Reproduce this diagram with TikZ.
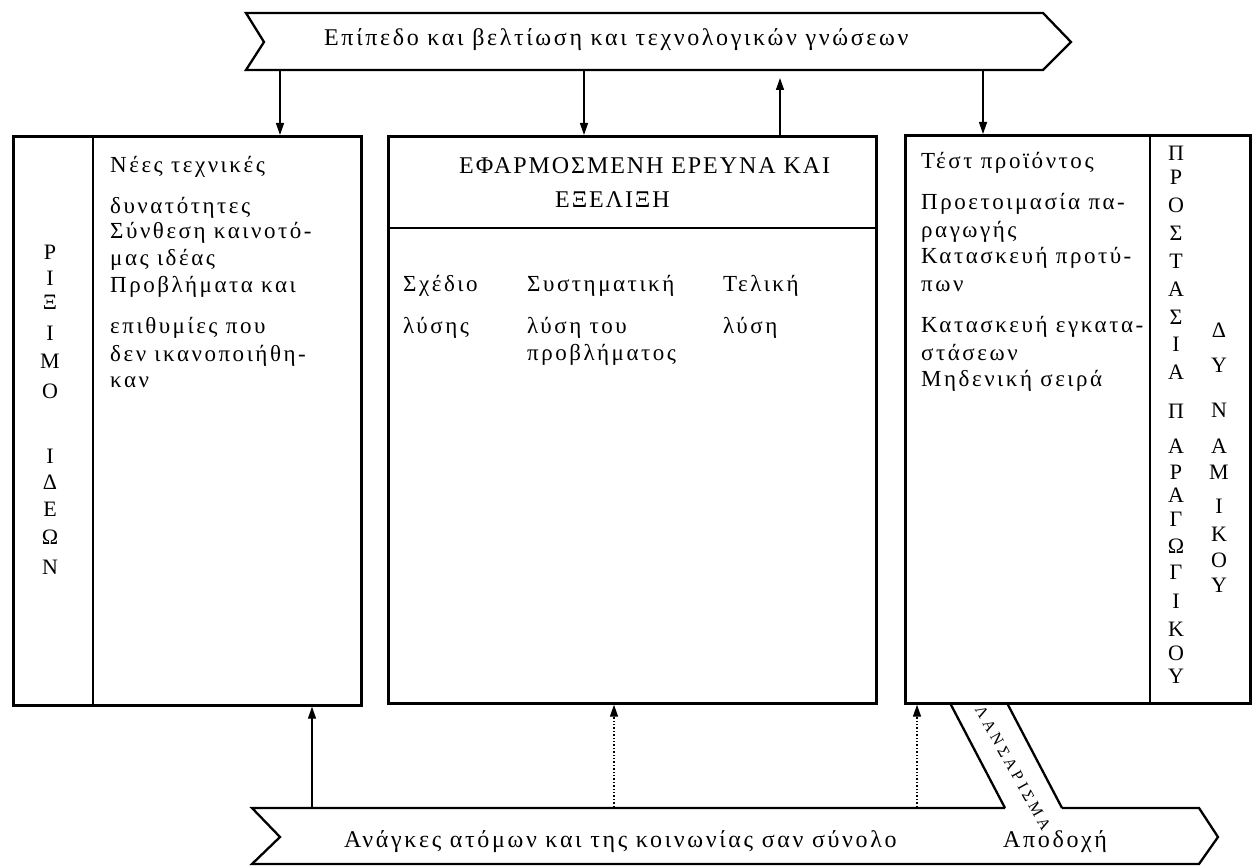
\documentclass[tikz,border=0pt]{standalone}
\usepackage{fontspec}
\setmainfont{Liberation Serif}
\newfontfamily\gfont[LetterSpace=11]{Liberation Serif}
\newfontfamily\capfont[LetterSpace=8]{Liberation Serif}
\newfontfamily\bandfont[LetterSpace=24]{Liberation Serif}
\usetikzlibrary{arrows.meta}
\newcommand\bodyfnt{\gfont\fontsize{23}{27}\selectfont}
\newcommand\banfnt{\gfont\fontsize{24}{28}\selectfont}
\newcommand\headfnt{\capfont\fontsize{24}{28}\selectfont}
\newcommand\letfnt{\fontsize{22}{26}\selectfont}
\newcommand\bandfnt{\bandfont\fontsize{16}{19}\selectfont}
\begin{document}
\begin{tikzpicture}[x=1pt,y=-1pt,
  boxline/.style={draw, line width=2.7pt, inner sep=0pt, anchor=north west},
  bannerline/.style={line width=2.3pt, line join=miter},
  divline/.style={line width=2.5pt},
  conn/.style={line width=1.4pt, -{Triangle[length=12pt,width=8pt]}},
  dotconn/.style={line width=1.4pt, dotted, -{Triangle[length=12pt,width=8pt]}},
  txt/.style={font=\bodyfnt, anchor=mid west, inner sep=0pt},
  bantxt/.style={font=\banfnt, anchor=mid west, inner sep=0pt},
  hd/.style={font=\headfnt, anchor=west, inner sep=0pt},
  vlet/.style={font=\letfnt, inner sep=0pt},
]
\useasboundingbox (0,0) rectangle (1253,866);

% ---------- top banner ----------
\draw[bannerline] (246,13) -- (1043,13) -- (1071,42) -- (1043,70) -- (246,70) -- (264,42) -- cycle;
\node[bantxt] (toptext) at (324,43) {Επίπεδο και βελτίωση και τεχνολογικών γνώσεων};

% ---------- boxes ----------
\node[boxline, minimum width=348pt, minimum height=569pt] (lbox) at (12,135) {};
\node[boxline, minimum width=488pt, minimum height=567pt] (mbox) at (387,135) {};
\node[boxline, minimum width=345pt, minimum height=568pt] (rbox) at (904,134) {};

\coordinate (ldivT) at (93,135);
\draw[divline] (ldivT) -- (ldivT |- lbox.south);
\coordinate (mdivL) at (387,228);
\draw[divline] (mdivL) -- (mdivL -| mbox.east);
\coordinate (rdivT) at (1150,134);
\draw[divline] (rdivT) -- (rdivT |- rbox.south);

% ---------- arrows from / to top banner ----------
\coordinate (ta1) at (280,71);
\coordinate (ta2) at (584,71);
\coordinate (ta3) at (780,78);
\coordinate (ta4) at (983,71);
\draw[conn] (ta1) -- (ta1 |- lbox.north);
\draw[conn] (ta2) -- (ta2 |- mbox.north);
\draw[conn] (ta3 |- mbox.north) -- (ta3);
\draw[conn] (ta4) -- (ta4 |- rbox.north);

% ---------- bottom banner ----------
\coordinate (bbL) at (252,808);
\coordinate (bandLb) at (1005,808);
\coordinate (bandRb) at (1062,808);
\coordinate (bbR) at (1199,808);
\coordinate (bandLt) at (950,703);
\coordinate (bandRt) at (1007,703);
\draw[bannerline] (bandLb) -- (bbL) -- (280,837) -- (252,864) -- (1199,864) -- (1218,837) -- (bbR) -- (bandRb);
\draw[bannerline] (bandLt) -- (bandLb);
\draw[bannerline] (bandRt) -- (bandRb);
\node[font=\bandfnt, inner sep=0pt, rotate=-61] (band) at (1013,768) {ΛΑΝΣΑΡΙΣΜΑ};

\node[bantxt] (bottext) at (344,845) {Ανάγκες ατόμων και της κοινωνίας σαν σύνολο};
\node[bantxt] (accept) at (1003,845) {Αποδοχή};

\coordinate (ba1) at (312,807);
\coordinate (ba2) at (614,807);
\coordinate (ba3) at (917,807);
\draw[conn] (ba1) -- (ba1 |- lbox.south);
\draw[dotconn] (ba2) -- (ba2 |- mbox.south);
\draw[dotconn] (ba3) -- (ba3 |- rbox.south);

% ---------- left box texts ----------
\node[txt] (l1) at (110,170) {Νέες τεχνικές};
\node[txt] (l2) at (110,211) {δυνατότητες};
\node[txt] (l3) at (110,236) {Σύνθεση καινοτό-};
\node[txt] (l4) at (110,263) {μας ιδέας};
\node[txt] (l5) at (110,290) {Προβλήματα και};
\node[txt] (l6) at (110,331) {επιθυμίες που};
\node[txt] (l7) at (110,359) {δεν ικανοποιήθη-};
\node[txt] (l8) at (110,385) {καν};

\foreach \c/\y [count=\i] in {Ρ/252,Ι/278,Ξ/302,Ι/333,Μ/361,Ο/391,Ι/456,Δ/482,Ε/509,Ω/537,Ν/567}
  \node[vlet] (lv\i) at (50,\y) {\c};

% ---------- middle box texts ----------
\node[hd] (h1) at (459,166) {ΕΦΑΡΜΟΣΜΕΝΗ ΕΡΕΥΝΑ ΚΑΙ};
\node[hd] (h2) at (555,200) {ΕΞΕΛΙΞΗ};
\node[txt] (m1) at (403,289) {Σχέδιο};
\node[txt] (m2) at (403,331) {λύσης};
\node[txt] (m3) at (527,289) {Συστηματική};
\node[txt] (m4) at (527,331) {λύση του};
\node[txt] (m5) at (527,358) {προβλήματος};
\node[txt] (m6) at (723,289) {Τελική};
\node[txt] (m7) at (723,331) {λύση};

% ---------- right box texts ----------
\node[txt] (r1) at (921,166) {Τέστ προϊόντος};
\node[txt] (r2) at (921,207) {Προετοιμασία πα-};
\node[txt] (r3) at (921,235) {ραγωγής};
\node[txt] (r4) at (921,261) {Κατασκευή προτύ-};
\node[txt] (r5) at (921,289) {πων};
\node[txt] (r6) at (921,330) {Κατασκευή εγκατα-};
\node[txt] (r7) at (921,358) {στάσεων};
\node[txt] (r8) at (921,384) {Μηδενική σειρά};

\foreach \c/\y [count=\i] in {Π/153,Ρ/177,Ο/205,Σ/233,Τ/261,Α/289,Σ/317,Ι/344,Α/372,Π/411,Α/446,Ρ/472,Α/495,Γ/519,Ω/546,Γ/572,Ι/601,Κ/629,Ο/653,Υ/676}
  \node[vlet] (ra\i) at (1176,\y) {\c};
\foreach \c/\y [count=\i] in {Δ/330,Υ/365,Ν/410,Α/446,Μ/472,Ι/506,Κ/534,Ο/560,Υ/585}
  \node[vlet] (rb\i) at (1219,\y) {\c};
\end{tikzpicture}
\end{document}
